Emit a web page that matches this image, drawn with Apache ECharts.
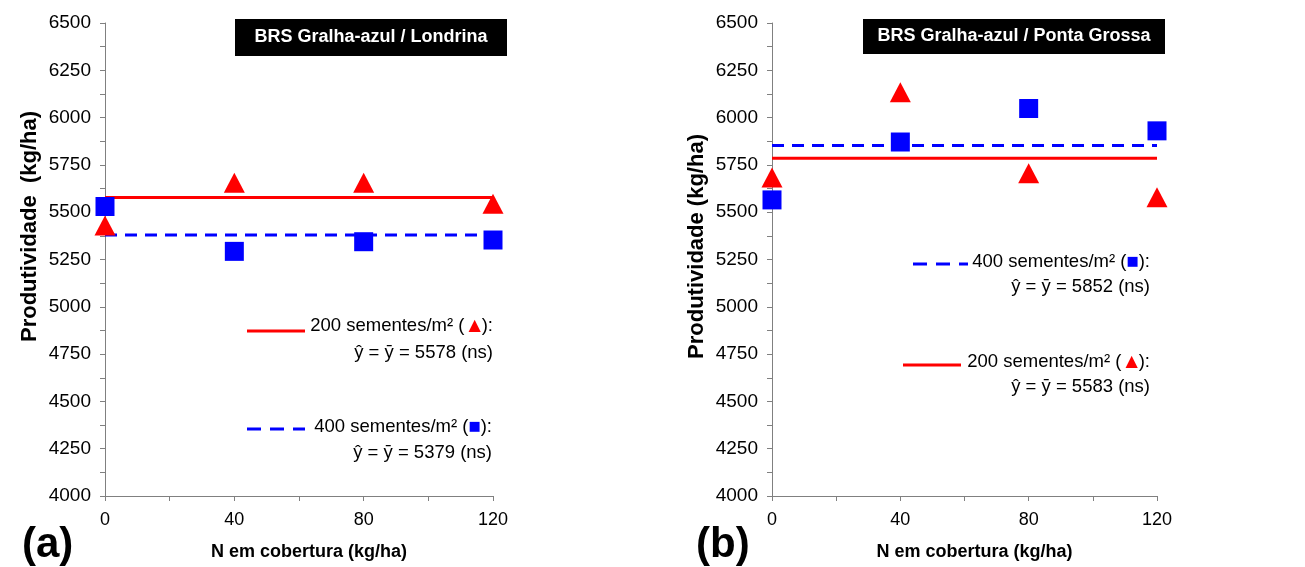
<!DOCTYPE html>
<html>
<head>
<meta charset="utf-8">
<script src="https://cdn.jsdelivr.net/npm/echarts@6/dist/echarts.min.js"></script>
<style>
  html, body { margin: 0; padding: 0; background: #fff; }
  #chart { width: 1305px; height: 567px; }
</style>
</head>
<body>
<div id="chart"></div>
<script>
// doses de N (kg/ha)
const doses = [0, 40, 80, 120];

// (a) Londrina
const londrina200 = [5430, 5655, 5655, 5545];
const londrina400 = [5530, 5293, 5344, 5353];
const londrinaMedia = [5578, 5379];

// (b) Ponta Grossa
const pontaGrossa200 = [5683, 6134, 5706, 5579];
const pontaGrossa400 = [5565, 5871, 6048, 5930];
const pontaGrossaMedia = [5785, 5852];

const FONT = "'Liberation Sans', Arial, sans-serif";
const RED = '#ff0000';
const BLUE = '#0000ff';
const AXIS = '#808080';

const pts = vals => doses.map((d, i) => [d, vals[i]]);
const flat = v => [[doses[0], v], [doses[doses.length - 1], v]];

const chart = echarts.init(document.getElementById('chart'));

const xAxisCfg = gridIndex => ({
  type: 'value',
  gridIndex: gridIndex,
  min: 0,
  max: 120,
  interval: 40,
  name: 'N em cobertura (kg/ha)',
  nameLocation: 'middle',
  nameGap: 47,
  nameTextStyle: { fontFamily: FONT, fontWeight: 'bold', fontSize: 18, color: '#000', padding: [0, 0, 0, 20] },
  axisLine: { show: true, onZero: false, lineStyle: { color: AXIS, width: 1 } },
  axisTick: { show: true, length: 5, lineStyle: { color: AXIS } },
  minorTick: { show: true, splitNumber: 2, length: 5, lineStyle: { color: AXIS } },
  splitLine: { show: false },
  axisLabel: { fontFamily: FONT, fontSize: 18, color: '#000', margin: 15 },
});

const yAxisCfg = (gridIndex, name, pad) => ({
  type: 'value',
  gridIndex: gridIndex,
  min: 4000,
  max: 6500,
  interval: 250,
  name: name,
  nameLocation: 'middle',
  nameGap: 64,
  nameTextStyle: { fontFamily: FONT, fontWeight: 'bold', fontSize: 22, color: '#000', padding: [0, 0, 0, pad] },
  axisLine: { show: true, lineStyle: { color: AXIS, width: 1 } },
  axisTick: { show: true, length: 5, lineStyle: { color: AXIS } },
  minorTick: { show: true, splitNumber: 2, length: 5, lineStyle: { color: AXIS } },
  splitLine: { show: false },
  axisLabel: { fontFamily: FONT, fontSize: 19, color: '#000', margin: 14, formatter: v => String(v) },
});

const triangles = (idx, vals) => ({
  type: 'scatter', xAxisIndex: idx, yAxisIndex: idx, data: pts(vals),
  symbol: 'triangle', symbolSize: [21, 20], itemStyle: { color: RED, opacity: 1 }, z: 5, clip: false,
});
const squares = (idx, vals) => ({
  type: 'scatter', xAxisIndex: idx, yAxisIndex: idx, data: pts(vals),
  symbol: 'rect', symbolSize: 19, itemStyle: { color: BLUE, opacity: 1 }, z: 5, clip: false,
});
const mean = (idx, v, color, dashed) => ({
  type: 'line', xAxisIndex: idx, yAxisIndex: idx, data: flat(v),
  symbol: 'none', lineStyle: { color: color, width: 3, type: dashed ? [12, 8] : 'solid' }, z: 2,
});

// legenda desenhada a mao
const legLine = (x1, x2, y, color, dashed) => ({
  type: 'line',
  shape: { x1: x1, y1: y, x2: x2, y2: y },
  style: { stroke: color, lineWidth: 3, lineDash: dashed ? [14, 9] : null },
});
const legText = (x, y, text) => ({
  type: 'text', x: x, y: y,
  style: {
    text: text, fill: '#000', font: '18.5px ' + FONT, align: 'right', verticalAlign: 'middle',
    rich: {
      r: { fill: RED, fontSize: 16, fontFamily: 'DejaVu Sans', padding: [0, 1, 0, 4] },
      b: { fill: BLUE, fontSize: 13, fontFamily: 'DejaVu Sans' },
    },
  },
});
const titleBox = (x, y, w, h, text) => ({
  type: 'group',
  children: [
    { type: 'rect', shape: { x: x, y: y, width: w, height: h }, style: { fill: '#000' } },
    {
      type: 'text', x: x + w / 2, y: y + h / 2,
      style: { text: text, fill: '#fff', font: 'bold 18px ' + FONT, align: 'center', verticalAlign: 'middle' },
    },
  ],
});
const panelLetter = (x, text) => ({
  type: 'text', x: x, y: 545,
  style: { text: text, fill: '#000', font: 'bold 42px ' + FONT, verticalAlign: 'middle' },
});

chart.setOption({
  backgroundColor: '#fff',
  animation: false,
  grid: [
    { left: 105, top: 23, width: 388, bottom: 71 },
    { left: 772, top: 23, width: 385, bottom: 71 },
  ],
  xAxis: [xAxisCfg(0), xAxisCfg(1)],
  yAxis: [
    yAxisCfg(0, 'Produtividade  (kg/ha)', 66),
    yAxisCfg(1, 'Produtividade (kg/ha)', 26),
  ],
  series: [
    mean(0, londrinaMedia[0], RED, false),
    mean(0, londrinaMedia[1], BLUE, true),
    triangles(0, londrina200),
    squares(0, londrina400),
    mean(1, pontaGrossaMedia[0], RED, false),
    mean(1, pontaGrossaMedia[1], BLUE, true),
    triangles(1, pontaGrossa200),
    squares(1, pontaGrossa400),
  ],
  graphic: [
    titleBox(235, 19, 272, 37, 'BRS Gralha-azul / Londrina'),
    titleBox(863, 19, 302, 35, 'BRS Gralha-azul / Ponta Grossa'),
    panelLetter(22, '(a)'),
    panelLetter(696, '(b)'),
    // (a)
    legLine(247, 305, 331, RED, false),
    legText(493, 326, '200 sementes/m² ({r|▲}):'),
    legText(493, 353, 'ŷ = ȳ = 5578 (ns)'),
    legLine(247, 305, 429, BLUE, true),
    legText(492, 427, '400 sementes/m² ({b|■}):'),
    legText(492, 453, 'ŷ = ȳ = 5379 (ns)'),
    // (b)
    legLine(913, 968, 264, BLUE, true),
    legText(1150, 262, '400 sementes/m² ({b|■}):'),
    legText(1150, 287, 'ŷ = ȳ = 5852 (ns)'),
    legLine(903, 961, 365, RED, false),
    legText(1150, 362, '200 sementes/m² ({r|▲}):'),
    legText(1150, 387, 'ŷ = ȳ = 5583 (ns)'),
  ],
});
</script>
</body>
</html>
